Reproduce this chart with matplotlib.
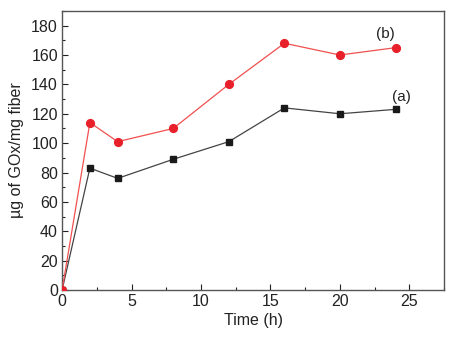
"""GOx loading on fibers versus time, curves (a) and (b)."""

import matplotlib
matplotlib.use("Agg")
import matplotlib.pyplot as plt
from matplotlib.ticker import MultipleLocator

plt.rcParams["font.family"] = ["Liberation Sans", "DejaVu Sans"]

time_h = [0, 2, 4, 8, 12, 16, 20, 24]
gox_a = [0, 83, 76, 89, 101, 124, 120, 123]
gox_b = [0, 114, 101, 110, 140, 168, 160, 165]

fig = plt.figure(figsize=(4.5, 3.42), dpi=100)
ax = fig.add_axes([0.138, 0.152, 0.849, 0.816])

ax.plot(time_h, gox_a, "-", color="#444444", linewidth=0.9,
        marker="s", markersize=4.6, markerfacecolor="#1a1a1a",
        markeredgecolor="#1a1a1a", zorder=3)
ax.plot(time_h, gox_b, "-", color="#f0504f", linewidth=0.9,
        marker="o", markersize=5.6, markerfacecolor="#e8202a",
        markeredgecolor="#e8202a", zorder=4)

ax.text(23.3, 174, "(b)", fontsize=11, ha="center", va="center", color="#222222")
ax.text(24.4, 131.5, "(a)", fontsize=11, ha="center", va="center", color="#222222")

ax.set_xlim(0, 27.5)
ax.set_ylim(0, 190)
ax.xaxis.set_major_locator(MultipleLocator(5))
ax.xaxis.set_minor_locator(MultipleLocator(2.5))
ax.yaxis.set_major_locator(MultipleLocator(20))
ax.yaxis.set_minor_locator(MultipleLocator(10))
ax.tick_params(which="both", direction="in", top=False, right=False,
               labelsize=11.5, colors="#222222", width=0.8)
ax.tick_params(which="major", length=4, pad=3)
ax.tick_params(which="minor", length=2.5)
for s in ax.spines.values():
    s.set_color("#555555")
    s.set_linewidth(1.0)

ax.set_xlabel("Time (h)", fontsize=11.5, color="#222222", labelpad=3)
ax.set_ylabel("µg of GOx/mg fiber", fontsize=11.5, color="#222222", labelpad=5)

fig.savefig("out.png", dpi=100)
